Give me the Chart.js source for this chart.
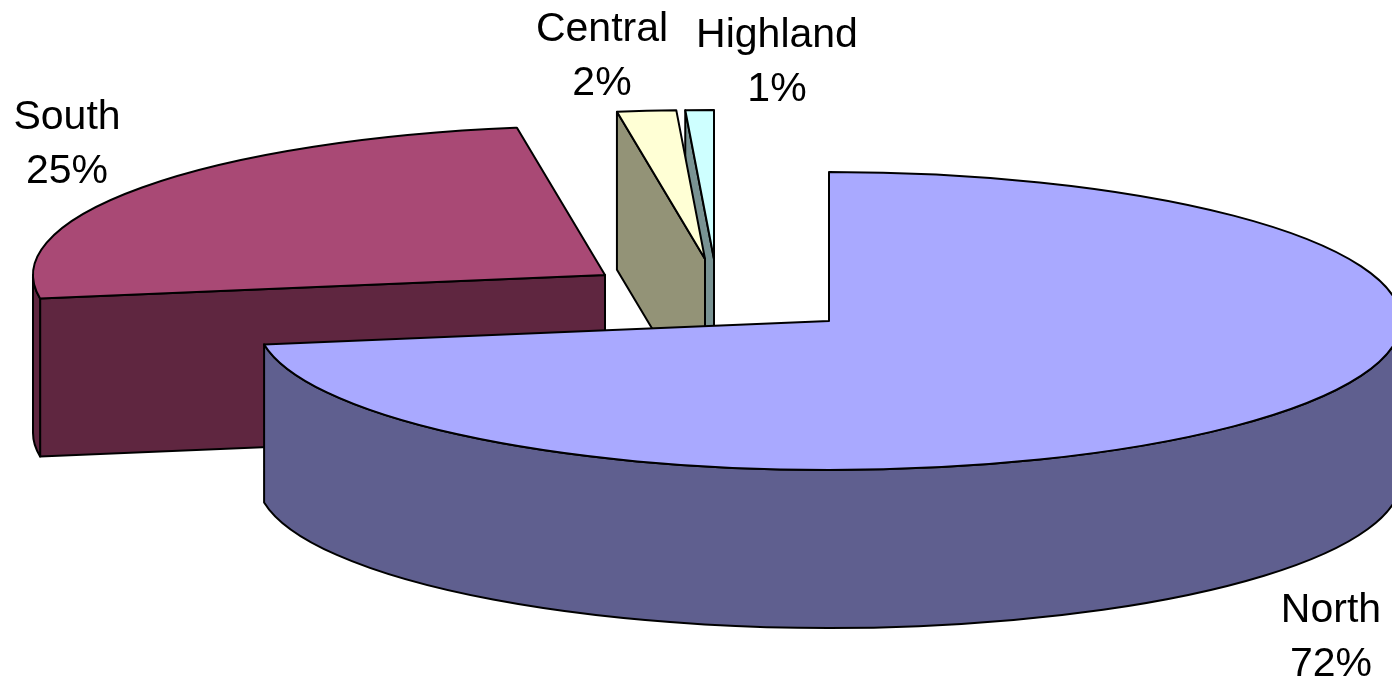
<!DOCTYPE html>
<html>
<head>
<meta charset="utf-8">
<title>Regions</title>
<script src="https://cdn.jsdelivr.net/npm/chart.js@4"></script>
<style>
  html, body { margin: 0; padding: 0; background: #fff; }
  canvas { display: block; }
</style>
</head>
<body>
<canvas id="regionChart" width="1392" height="682"></canvas>
<script>
// data
const regions = ["North", "South", "Central", "Highland"];
const shares = [72.49, 25.05, 1.66, 0.8];

// colours: top of the slice / its side walls
const topColors = ["#a9a9ff", "#a94975", "#ffffd5", "#ceffff"];
const wallColors = ["#5f5f8f", "#5f2640", "#939377", "#799393"];

// how the flat pie is laid down into a tilted disc
const tilt = 0.2605;
const depth = 158;
const explode = [[0, 0], [-224, -46], [-124, -62], [-115, -62]];

// label centre x and first baseline y, per region
const labelSpots = [[1331, 622], [67, 129], [602, 41], [777, 47]];
const labelLineHeight = 54;

const tiltedPie = {
    id: 'tiltedPie',
    beforeDatasetsDraw(chart) {
        const ctx = chart.ctx;
        const arcs = chart.getDatasetMeta(0).data;

        // back slices first, North last because it sits in front
        for (let i = arcs.length - 1; i >= 0; i--) {
            const arc = arcs[i];
            const { x, y, startAngle, endAngle, outerRadius } = arc.getProps(['x', 'y', 'startAngle', 'endAngle', 'outerRadius']);
            const cx = x + explode[i][0];
            const cy = y + explode[i][1];
            const rx = outerRadius;
            const ry = outerRadius * tilt;

            ctx.save();
            ctx.lineWidth = 2;
            ctx.lineJoin = 'round';
            ctx.strokeStyle = '#000';
            ctx.fillStyle = wallColors[i];

            // the cut face at the start of the slice, if it looks towards us
            if (Math.cos(startAngle) < -0.001) {
                const px = cx + rx * Math.cos(startAngle);
                const py = cy + ry * Math.sin(startAngle);
                ctx.beginPath();
                ctx.moveTo(cx, cy);
                ctx.lineTo(px, py);
                ctx.lineTo(px, py + depth);
                ctx.lineTo(cx, cy + depth);
                ctx.closePath();
                ctx.fill();
                ctx.stroke();
            }

            // outer wall, only the front half of the rim shows
            const a0 = Math.max(startAngle, 0);
            const a1 = Math.min(endAngle, Math.PI);
            if (a0 < a1) {
                ctx.beginPath();
                ctx.ellipse(cx, cy, rx, ry, 0, a0, a1);
                ctx.ellipse(cx, cy + depth, rx, ry, 0, a1, a0, true);
                ctx.closePath();
                ctx.fill();
                ctx.stroke();
            }

            // top of the slice, drawn by the arc element itself
            ctx.save();
            ctx.translate(cx, cy);
            ctx.scale(1, tilt);
            ctx.translate(-x, -y);
            arc.draw(ctx);
            ctx.restore();

            ctx.beginPath();
            ctx.moveTo(cx, cy);
            ctx.ellipse(cx, cy, rx, ry, 0, startAngle, endAngle);
            ctx.closePath();
            ctx.stroke();
            ctx.restore();
        }

        // labels
        ctx.save();
        ctx.font = '41px "Liberation Sans", Arial, sans-serif';
        ctx.fillStyle = '#000';
        ctx.textAlign = 'center';
        ctx.textBaseline = 'alphabetic';
        regions.forEach(function (name, i) {
            const spot = labelSpots[i];
            ctx.fillText(name, spot[0], spot[1]);
            ctx.fillText(Math.round(shares[i]) + '%', spot[0], spot[1] + labelLineHeight);
        });
        ctx.restore();

        return false;
    }
};

new Chart(document.getElementById('regionChart'), {
    type: 'pie',
    data: {
        labels: regions,
        datasets: [{
            data: shares,
            backgroundColor: topColors,
            borderWidth: 0,
            radius: 572
        }]
    },
    options: {
        responsive: false,
        animation: false,
        layout: { padding: { left: 266, bottom: 40 } },
        plugins: {
            legend: { display: false },
            tooltip: { enabled: false }
        }
    },
    plugins: [tiltedPie]
});
</script>
</body>
</html>
